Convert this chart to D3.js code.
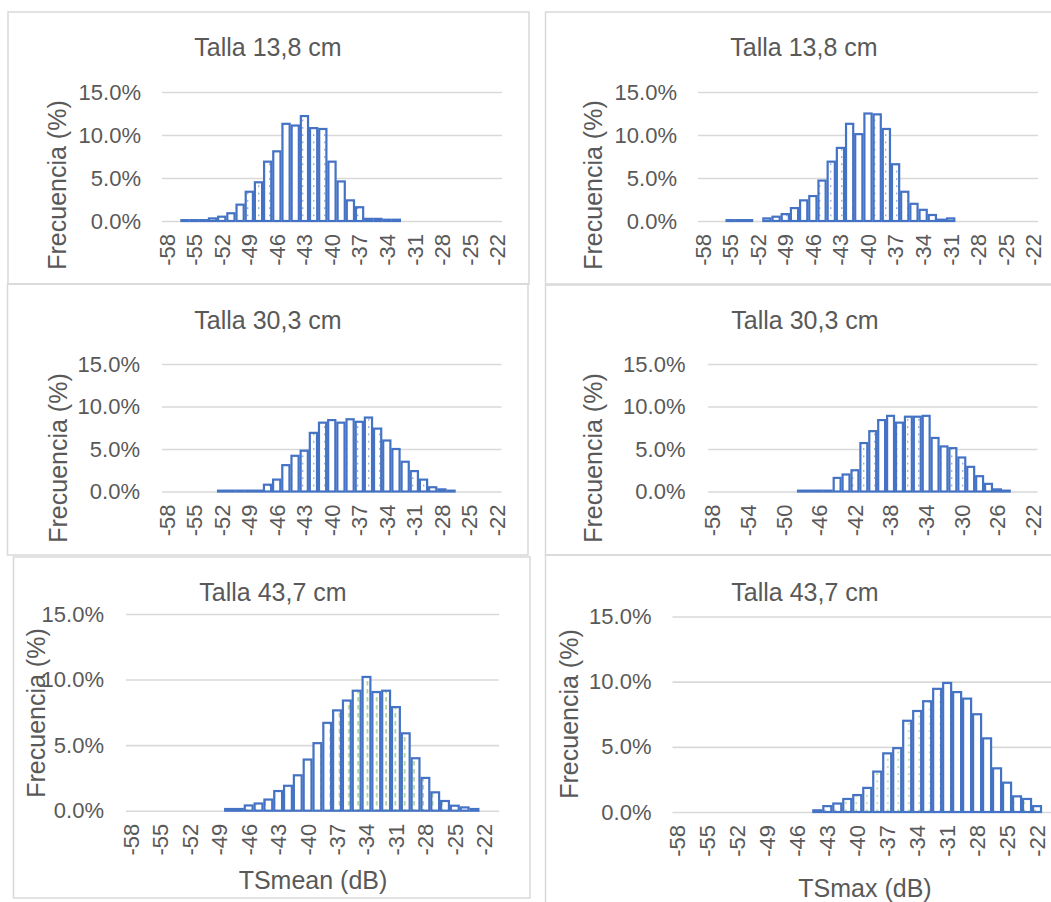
<!DOCTYPE html>
<html>
<head>
<meta charset="utf-8">
<script src="https://cdn.jsdelivr.net/npm/d3@7"></script>
<style>
  body { margin: 0; background: #ffffff; }
  svg { display: block; }
  text { font-family: "Liberation Sans", Arial, sans-serif; fill: #595959; }
</style>
</head>
<body>
<svg id="chart" width="1051" height="902"></svg>
<script>
// Histogram bins (dB). Upper panels use -58..-22, lower panels -58..-21.
const categoriesNarrow = [-58,-57,-56,-55,-54,-53,-52,-51,-50,-49,-48,-47,-46,-45,-44,-43,-42,-41,-40,
  -39,-38,-37,-36,-35,-34,-33,-32,-31,-30,-29,-28,-27,-26,-25,-24,-23,-22];
const categoriesWide = [-58,-57,-56,-55,-54,-53,-52,-51,-50,-49,-48,-47,-46,-45,-44,-43,-42,-41,-40,
  -39,-38,-37,-36,-35,-34,-33,-32,-31,-30,-29,-28,-27,-26,-25,-24,-23,-22,-21];

// Frequency (%) per bin
const tsMean138 = [0,0,0.1,0.1,0.1,0.3,0.5,0.9,1.9,3.4,4.5,6.9,8.1,11.3,11.1,12.2,10.8,10.7,6.9,
  4.6,2.4,1.6,0.25,0.25,0.15,0.15,0,0,0,0,0,0,0,0,0,0,0];
const tsMax138 = [0,0,0,0.1,0.1,0.1,0,0.3,0.5,0.8,1.5,2.4,2.9,4.7,6.9,8.5,11.3,10.1,12.5,
  12.4,10.7,6.6,3.4,2.0,1.3,0.7,0.15,0.3,0,0,0,0,0,0,0,0,0];
const tsMean303 = [0,0,0,0,0,0,0.1,0.1,0.1,0.1,0.1,0.8,1.4,3.1,4.2,4.8,6.9,8.1,8.4,
  8.1,8.5,8.2,8.7,7.4,6.0,5.0,3.5,2.4,1.4,0.5,0.25,0.1,0,0,0,0,0];
const tsMax303 = [0,0,0,0,0,0,0,0,0,0,0.1,0.1,0.1,0.1,1.6,2.0,2.5,5.7,7.1,
  8.4,8.9,8.1,8.8,8.8,8.9,6.3,5.3,5.1,4.0,2.9,1.8,0.9,0.25,0.1,0,0,0];
const tsMean437 = [0,0,0,0,0,0,0,0,0,0,0.13,0.13,0.4,0.55,0.85,1.5,1.9,2.7,3.9,
  5.15,6.7,7.65,8.4,9.15,10.2,9.05,9.15,7.9,5.9,4.0,2.5,1.4,0.74,0.38,0.25,0.13,0,0];
const tsMax437 = [0,0,0,0,0,0,0,0,0,0,0,0,0,0,0.13,0.45,0.65,1.0,1.3,
  1.85,3.1,4.5,4.9,7.0,7.75,8.5,9.45,9.9,9.2,8.7,7.5,5.65,3.35,2.25,1.2,1.0,0.45,0];

const yTicks = [0, 5, 10, 15];
const titles = ["Talla 13,8 cm", "Talla 13,8 cm", "Talla 30,3 cm", "Talla 30,3 cm", "Talla 43,7 cm", "Talla 43,7 cm"];
const xTitles = [null, null, null, null, "TSmean (dB)", "TSmax (dB)"];
const yTitle = "Frecuencia (%)";

// Layout of the six chart boxes: frame, plot area, label anchors
const layout = [
  { frame: [8, 12, 529, 284],    plot: [162, 92, 502, 221],    yLab: 141,   yTitleAt: [57, 185],   titleAt: [268, 47],  every: 3, fill: "dotsBlue" },
  { frame: [545.5, 12, 1070, 284], plot: [698, 92, 1038, 221], yLab: 677,   yTitleAt: [593, 185],  titleAt: [804, 47],  every: 3, fill: "dotsBlue" },
  { frame: [7.5, 284, 528, 555], plot: [162, 364, 501.5, 491.5], yLab: 140, yTitleAt: [57.5, 458], titleAt: [268, 320], every: 3, fill: "dotsBlue" },
  { frame: [545.5, 285, 1070, 555], plot: [708, 364, 1037.5, 491.5], yLab: 685.5, yTitleAt: [593, 458], titleAt: [805, 320], every: 4, fill: "dotsBlue" },
  { frame: [13.5, 557, 530, 898], plot: [126, 614, 499, 810.7], yLab: 104,  yTitleAt: [35.5, 713], titleAt: [273, 592], every: 3, fill: "dashGreen", xTitleAt: [313, 880] },
  { frame: [545.5, 555, 1070, 920], plot: [672.5, 616.5, 1052, 812], yLab: 651.5, yTitleAt: [569, 714], titleAt: [805, 592], every: 3, fill: "dotsGreen", xTitleAt: [865, 888] }
];
const seriesList = [tsMean138, tsMax138, tsMean303, tsMax303, tsMean437, tsMax437];
const categoryList = [categoriesNarrow, categoriesNarrow, categoriesNarrow, categoriesNarrow, categoriesWide, categoriesWide];

const svg = d3.select("#chart");
const defs = svg.append("defs");

function makePattern(id, w, h, color, mark) {
  const p = defs.append("pattern").attr("id", id)
    .attr("patternUnits", "userSpaceOnUse").attr("width", w).attr("height", h);
  p.append("rect").attr("width", w).attr("height", h).attr("fill", "#ffffff");
  p.append("rect").attr("x", mark[0]).attr("y", mark[1]).attr("width", mark[2]).attr("height", mark[3])
    .attr("fill", color);
}
makePattern("dotsBlue", 11, 7.3, "rgba(68,114,196,0.75)", [5, 3, 1.4, 1.4]);
makePattern("dashGreen", 9.3, 8, "#a9d18e", [4, 1, 1.6, 4.5]);
makePattern("dotsGreen", 10.5, 7.2, "#a9d18e", [5, 3, 1.6, 1.6]);

layout.forEach((L, i) => {
  const g = svg.append("g");
  const cats = categoryList[i];
  const vals = seriesList[i];
  const [x0, y0, x1, y1] = L.plot;

  g.append("rect")
    .attr("x", L.frame[0]).attr("y", L.frame[1])
    .attr("width", L.frame[2] - L.frame[0]).attr("height", L.frame[3] - L.frame[1])
    .attr("fill", "none").attr("stroke", "#d9d9d9").attr("stroke-width", 1.5);

  const x = d3.scaleBand().domain(cats).range([x0, x1]).padding(0);
  const y = d3.scaleLinear().domain([0, 15]).range([y1, y0]);

  // Value axis with horizontal gridlines
  const yAxis = g.append("g").attr("transform", `translate(${x0},0)`)
    .call(d3.axisLeft(y).tickValues(yTicks).tickSize(-(x1 - x0)).tickPadding(x0 - L.yLab)
      .tickFormat(d => d.toFixed(1) + "%"));
  yAxis.select(".domain").remove();
  yAxis.selectAll(".tick line").attr("stroke", "#d9d9d9").attr("stroke-width", 1.6);
  yAxis.selectAll(".tick text").attr("font-size", 22).attr("fill", "#595959")
    .style("font-family", '"Liberation Sans", Arial, sans-serif');

  // Category axis, labels rotated
  const xAxis = g.append("g").attr("transform", `translate(0,${y1})`)
    .call(d3.axisBottom(x).tickValues(cats.filter((d, k) => k % L.every === 0)).tickSize(0)
      .tickFormat(d => String(d)));
  xAxis.select(".domain").remove();
  xAxis.selectAll(".tick text")
    .attr("transform", "rotate(-90)")
    .attr("text-anchor", "end")
    .attr("x", -13).attr("y", 0).attr("dy", "0.36em")
    .attr("font-size", 22).attr("fill", "#595959")
    .style("font-family", '"Liberation Sans", Arial, sans-serif');

  // Histogram bars
  const inset = 1;
  g.append("g").selectAll("rect")
    .data(cats.map((c, k) => ({ c, v: vals[k] })).filter(d => d.v > 0))
    .join("rect")
    .attr("x", d => x(d.c) + inset)
    .attr("width", x.bandwidth() - 2 * inset)
    .attr("y", d => y(d.v))
    .attr("height", d => y(0) - y(d.v))
    .attr("fill", `url(#${L.fill})`)
    .attr("stroke", "#4472c4")
    .attr("stroke-width", 2.2);

  g.append("text").attr("x", L.titleAt[0]).attr("y", L.titleAt[1])
    .attr("text-anchor", "middle").attr("dominant-baseline", "central")
    .attr("font-size", 25).text(titles[i]);

  g.append("text")
    .attr("transform", `translate(${L.yTitleAt[0]},${L.yTitleAt[1]}) rotate(-90)`)
    .attr("text-anchor", "middle").attr("dominant-baseline", "central")
    .attr("font-size", 25).text(yTitle);

  if (xTitles[i]) {
    g.append("text").attr("x", L.xTitleAt[0]).attr("y", L.xTitleAt[1])
      .attr("text-anchor", "middle").attr("dominant-baseline", "central")
      .attr("font-size", 25).text(xTitles[i]);
  }
});
</script>
</body>
</html>
